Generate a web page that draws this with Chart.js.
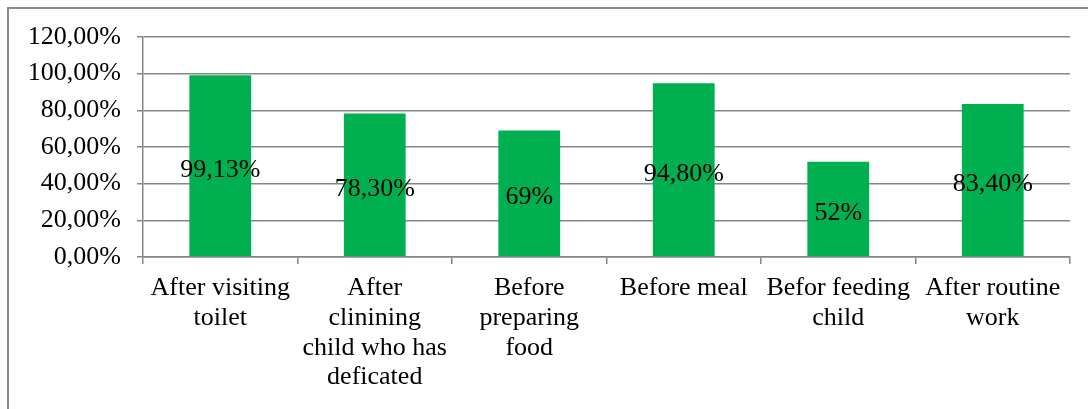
<!DOCTYPE html>
<html>
<head>
<meta charset="utf-8">
<script src="https://cdn.jsdelivr.net/npm/chart.js@4.4.1/dist/chart.umd.min.js"></script>
<style>
  html, body { margin: 0; padding: 0; background: #fff; overflow: hidden; }
  #wrap { position: relative; width: 1088px; height: 409px; }
  #frame {
    position: absolute; left: 7px; top: 7px; right: -20px; bottom: -20px;
    border: 2px solid #8a8a8a;
  }
  canvas { position: absolute; left: 0; top: 0; }
</style>
</head>
<body>
<div id="wrap">
  <div id="frame"></div>
  <canvas id="handwashChart" width="1088" height="409"></canvas>
</div>
<script>
// ── Data
const categories = [
  ['After visiting', 'toilet'],
  ['After', 'clinining', 'child who has', 'deficated'],
  ['Before', 'preparing', 'food'],
  ['Before meal'],
  ['Befor feeding', 'child'],
  ['After routine', 'work'],
];
const percentValues = [99.13, 78.30, 69, 94.80, 52, 83.40];
const valueLabels   = ['99,13%', '78,30%', '69%', '94,80%', '52%', '83,40%'];
const yTicks        = [0, 20, 40, 60, 80, 100, 120];

// ── Shared styles
const FONT_FAMILY = '"Liberation Serif", "Times New Roman", serif';
const FONT_SIZE   = 26;
const GRID_GRAY   = '#868686';
const BAR_GREEN   = '#00b050';

// Draws the value text in the middle of each bar
const barValueLabels = {
  id: 'barValueLabels',
  afterDatasetsDraw(chart) {
    const ctx  = chart.ctx;
    const meta = chart.getDatasetMeta(0);
    ctx.save();
    ctx.font = FONT_SIZE + 'px ' + FONT_FAMILY;
    ctx.fillStyle = '#000';
    ctx.textAlign = 'center';
    ctx.textBaseline = 'middle';
    meta.data.forEach((bar, i) => {
      const { x, y, base } = bar.getProps(['x', 'y', 'base'], true);
      ctx.fillText(valueLabels[i], x, (y + base) / 2 + 4);
    });
    ctx.restore();
  },
};

new Chart(document.getElementById('handwashChart'), {
  type: 'bar',
  data: {
    labels: categories,
    datasets: [{
      data: percentValues,
      backgroundColor: BAR_GREEN,
      borderWidth: 0,
      barPercentage: 0.4,
      categoryPercentage: 1.0,
    }],
  },
  options: {
    responsive: false,
    animation: false,
    layout: { padding: { left: 8, right: 18, top: 37, bottom: 0 } },
    plugins: {
      legend:  { display: false },
      tooltip: { enabled: false },
    },
    scales: {
      x: {
        afterFit: s => { s.height = 152; },
        grid: {
          drawOnChartArea: false,
          color: GRID_GRAY,
          lineWidth: 1.5,
          tickLength: 7,
          offset: true,
        },
        border: { color: GRID_GRAY, width: 1.5 },
        ticks: {
          color: '#000',
          font: { family: FONT_FAMILY, size: FONT_SIZE, lineHeight: 1.15 },
          padding: 9,
          maxRotation: 0,
          autoSkip: false,
        },
      },
      y: {
        min: 0,
        max: 120,
        afterFit: s => { s.width = 135; },
        afterBuildTicks: s => { s.ticks = yTicks.map(v => ({ value: v })); },
        grid: {
          color: GRID_GRAY,
          lineWidth: 1.5,
          tickLength: 6,
        },
        border: { color: GRID_GRAY, width: 1.5 },
        ticks: {
          color: '#000',
          font: { family: FONT_FAMILY, size: FONT_SIZE },
          padding: 16,
          // 120 -> "120,00%"
          callback: v => v.toFixed(2).replace('.', ',') + '%',
        },
      },
    },
  },
  plugins: [barValueLabels],
});
</script>
</body>
</html>
